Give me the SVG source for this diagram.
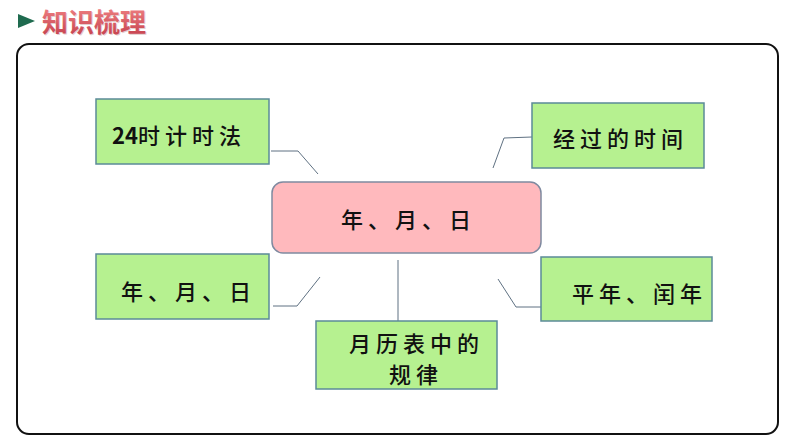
<svg xmlns="http://www.w3.org/2000/svg" width="794" height="447" viewBox="0 0 794 447">
<defs>
<linearGradient id="tg" x1="0" y1="0" x2="0" y2="1">
<stop offset="0" stop-color="#f58a8a"/>
<stop offset="1" stop-color="#c23c4a"/>
</linearGradient>
<style>
.box{fill:#b6f190;stroke:#5b8a98;stroke-width:1.5}
.ctr{fill:#ffb9bd;stroke:#7f8aa0;stroke-width:1.5}
.t{font-family:"Noto Sans CJK SC","Noto Sans",sans-serif;font-size:22px;font-weight:500;fill:#111;letter-spacing:5px}
.c{fill:none;stroke:#5f7182;stroke-width:1}
</style>
</defs>
<rect width="794" height="447" fill="#fff"/>
<g id="title">
<polygon points="18,14 35,21 18,28" fill="#1f6b4f"/>
<text x="43" y="33" font-family="Noto Sans CJK SC,sans-serif" font-size="26" font-weight="bold" fill="#c9a0a0" opacity="0.5">知识梳理</text>
<text x="42" y="32" font-family="Noto Sans CJK SC,sans-serif" font-size="26" font-weight="bold" fill="url(#tg)">知识梳理</text>
</g>
<rect id="frame" x="17" y="44" width="761" height="390" rx="12" fill="none" stroke="#111" stroke-width="2"/>
<g id="connectors">
<polyline class="c" points="271,151 298,151 318,174"/>
<polyline class="c" points="532,137 504,138 493,168"/>
<polyline class="c" points="273,306 297,306 320,277"/>
<polyline class="c" points="541,307 516,307 498,279"/>
<line class="c" x1="398" y1="260" x2="398" y2="321"/>
</g>
<g id="center">
<rect class="ctr" x="272" y="182" width="269" height="71" rx="11"/>
<text class="t" x="341" y="228">年、月、日</text>
</g>
<g id="n24">
<rect class="box" x="96" y="99" width="173" height="65"/>
<text class="t" x="112" y="144"><tspan letter-spacing="0" font-weight="bold">24</tspan>时计时法</text>
</g>
<g id="njg">
<rect class="box" x="532" y="103" width="172" height="65"/>
<text class="t" x="553" y="147">经过的时间</text>
</g>
<g id="nymd">
<rect class="box" x="96" y="254" width="173" height="65"/>
<text class="t" x="121" y="300">年、月、日</text>
</g>
<g id="npr">
<rect class="box" x="541" y="257" width="171" height="64"/>
<text class="t" x="572" y="302">平年、闰年</text>
</g>
<g id="nyl">
<rect class="box" x="316" y="321" width="181" height="68"/>
<text class="t" x="349" y="352">月历表中的</text>
<text class="t" x="389" y="383">规律</text>
</g>
</svg>
